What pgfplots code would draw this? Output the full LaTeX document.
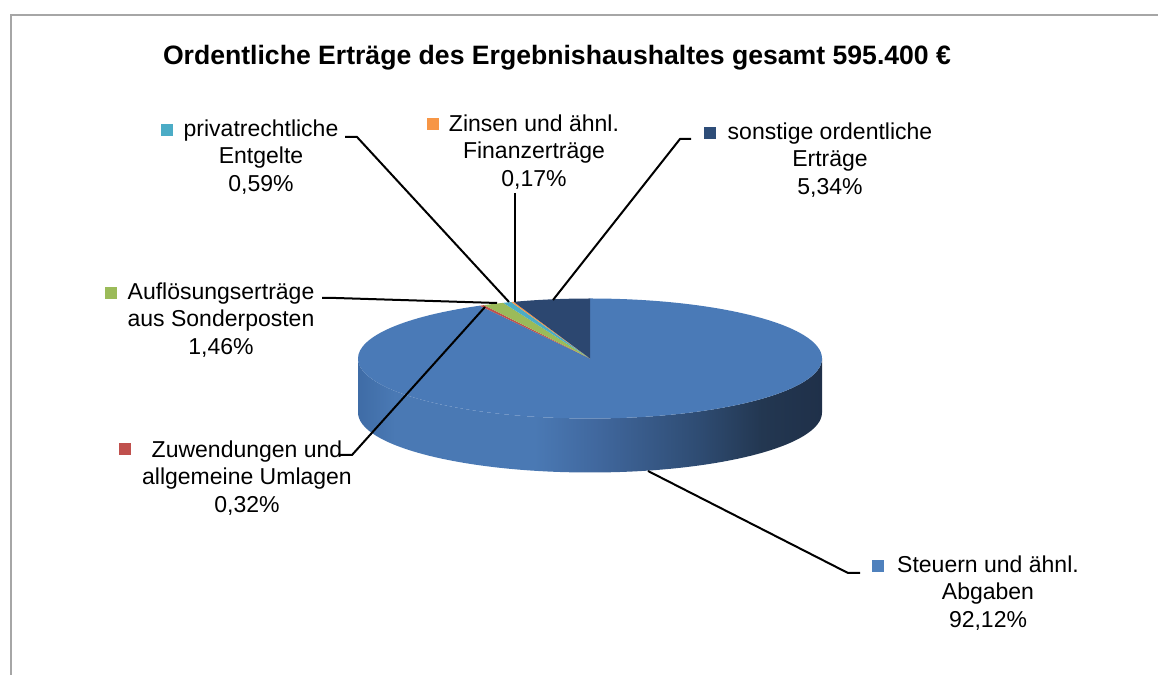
\documentclass[border=0pt]{standalone}
\usepackage{fontspec}
\setmainfont{Liberation Sans}
\usepackage{pgfplots}
\pgfplotsset{compat=1.18}

\definecolor{cSteu}{HTML}{4A7AB7}
\definecolor{cZuw}{HTML}{C0504D}
\definecolor{cAufl}{HTML}{9BBB59}
\definecolor{cPriv}{HTML}{4BACC6}
\definecolor{cZins}{HTML}{F79646}
\definecolor{cSonst}{HTML}{2C4770}
\definecolor{mSteu}{HTML}{4F81BD}
\definecolor{mSonst}{HTML}{2E4D78}
\definecolor{frameg}{HTML}{A6A6A6}
\definecolor{sA}{HTML}{3F6CA6}
\definecolor{sB}{HTML}{4A79B4}
\definecolor{sC}{HTML}{40679D}
\definecolor{sD}{HTML}{2E4B71}
\definecolor{sE}{HTML}{233751}
\definecolor{sF}{HTML}{1F3049}
\pgfdeclarehorizontalshading{pieside}{100bp}{color(0bp)=(sA); color(25bp)=(sA); color(29bp)=(sB); color(44bp)=(sB); color(51bp)=(sC); color(62bp)=(sD); color(68.5bp)=(sE); color(75bp)=(sF); color(100bp)=(sF)}

% shares in percent
\newcommand\pSteu{92.12}
\newcommand\pZuw{0.32}
\newcommand\pAufl{1.46}
\newcommand\pPriv{0.59}
\newcommand\pZins{0.17}
\newcommand\pSonst{5.34}
\pgfmathsetmacro\aA{90}
\pgfmathsetmacro\aB{\aA-\pSteu*3.6}
\pgfmathsetmacro\aC{\aB-\pZuw*3.6}
\pgfmathsetmacro\aD{\aC-\pAufl*3.6}
\pgfmathsetmacro\aE{\aD-\pPriv*3.6}
\pgfmathsetmacro\aF{\aE-\pZins*3.6}
\pgfmathsetmacro\aG{\aF-\pSonst*3.6}

\begin{document}
\begin{tikzpicture}
\begin{axis}[x=0.5pt,y=0.5pt,xmin=0,xmax=1158,ymin=0,ymax=675,
  hide axis,clip=false,scale only axis]
\addplot[draw=none] coordinates {(0,0) (1158,675)};
% frame
\draw[frameg, line width=1pt] (axis cs:11,-5) -- (axis cs:11,660) -- (axis cs:1165,660);
% title
\node[font=\bfseries\fontsize{13.3}{16}\selectfont] at (axis cs:557,617) {Ordentliche Erträge des Ergebnishaushaltes gesamt 595.400 €};
% side of pie
\shade[shading=pieside] (axis cs:358,316.5) -- ++(0,-27pt) arc[start angle=180,end angle=360,x radius=116pt,y radius=30pt] -- ++(0,27pt) arc[start angle=0,end angle=-180,x radius=116pt,y radius=30pt] -- cycle;
% top of pie
\begin{scope}[shift={(axis cs:590,316.5)}]
\fill[cSteu] (0,0) -- (\aA:116pt and 30pt) arc[start angle=\aA,end angle=\aB,x radius=116pt,y radius=30pt] -- cycle;
\fill[cZuw] (0,0) -- (\aB:116pt and 30pt) arc[start angle=\aB,end angle=\aC,x radius=116pt,y radius=30pt] -- cycle;
\fill[cAufl] (0,0) -- (\aC:116pt and 30pt) arc[start angle=\aC,end angle=\aD,x radius=116pt,y radius=30pt] -- cycle;
\fill[cPriv] (0,0) -- (\aD:116pt and 30pt) arc[start angle=\aD,end angle=\aE,x radius=116pt,y radius=30pt] -- cycle;
\fill[cZins] (0,0) -- (\aE:116pt and 30pt) arc[start angle=\aE,end angle=\aF,x radius=116pt,y radius=30pt] -- cycle;
\fill[cSonst] (0,0) -- (\aF:116pt and 30pt) arc[start angle=\aF,end angle=\aG,x radius=116pt,y radius=30pt] -- cycle;
\end{scope}
% leader lines
\draw[black, line width=1pt] (axis cs:345,538) -- (axis cs:357,538) -- (axis cs:509,373);
\draw[black, line width=1pt] (axis cs:515,482) -- (axis cs:515,373);
\draw[black, line width=1pt] (axis cs:691,536) -- (axis cs:680,536) -- (axis cs:553,375);
\draw[black, line width=1pt] (axis cs:322,377) -- (axis cs:336,377) -- (axis cs:497,372);
\draw[black, line width=1pt] (axis cs:340,220) -- (axis cs:352,220) -- (axis cs:485,368);
\draw[black, line width=1pt] (axis cs:860,102) -- (axis cs:848,102) -- (axis cs:648,204);
% markers
\fill[cPriv] (axis cs:161,539) rectangle (axis cs:173,551);
\fill[cZins] (axis cs:427,545) rectangle (axis cs:439,557);
\fill[mSonst] (axis cs:704,536) rectangle (axis cs:716,548);
\fill[cAufl] (axis cs:105,376) rectangle (axis cs:117,388);
\fill[cZuw] (axis cs:119,220) rectangle (axis cs:131,232);
\fill[mSteu] (axis cs:872,103) rectangle (axis cs:884,115);
% labels
\tikzset{lab/.style={align=center, font=\fontsize{11.5}{13.6}\selectfont, inner sep=0pt}}
\node[lab] at (axis cs:261,518) {privatrechtliche\\Entgelte\\0,59\%};
\node[lab] at (axis cs:534,523) {Zinsen und ähnl.\\Finanzerträge\\0,17\%};
\node[lab] at (axis cs:830,515) {sonstige ordentliche\\Erträge\\5,34\%};
\node[lab] at (axis cs:221,355) {Auflösungserträge\\aus Sonderposten\\1,46\%};
\node[lab] at (axis cs:247,197) {Zuwendungen und\\allgemeine Umlagen\\0,32\%};
\node[lab] at (axis cs:988,82) {Steuern und ähnl.\\Abgaben\\92,12\%};
\end{axis}
\pgfresetboundingbox
\path (current axis.south west) rectangle (current axis.north east);
\end{tikzpicture}
\end{document}
